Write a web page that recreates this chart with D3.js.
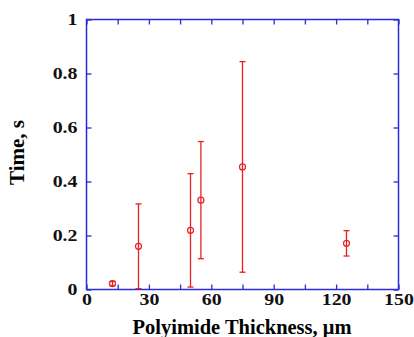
<!DOCTYPE html>
<html>
<head>
<meta charset="utf-8">
<script src="https://cdn.jsdelivr.net/npm/d3@7"></script>
<style>
  body { margin: 0; background: #fff; }
</style>
</head>
<body>
<div id="chart"></div>
<script>
// data
var thickness = [12.5, 25, 50, 55, 75, 125];
var time = [0.022, 0.16, 0.219, 0.331, 0.454, 0.171];
var timeErr = [0.008, 0.157, 0.21, 0.217, 0.39, 0.047];

var xTicks = [0, 15, 30, 45, 60, 75, 90, 105, 120, 135, 150];
var xLabels = [0, 30, 60, 90, 120, 150];
var yTicks = [0, 0.2, 0.4, 0.6, 0.8, 1];

var W = 414, H = 337;
var margin = {top: 19.5, right: 15.5, bottom: 47.5, left: 86.5};
var width = W - margin.left - margin.right,
    height = H - margin.top - margin.bottom;

var blue = "#2b2bdd", red = "#e82020";
var serif = "'Liberation Serif', 'Times New Roman', Times, serif";

var svg = d3.select("#chart").append("svg")
  .attr("width", W).attr("height", H)
  .append("g")
  .attr("transform", "translate(" + margin.left + "," + margin.top + ")");

var x = d3.scaleLinear().domain([0, 150]).range([0, width]);
var y = d3.scaleLinear().domain([0, 1]).range([height, 0]);

// the original's tick numbers are a bit wider than plain Times
function widen(sel, k) {
  sel.each(function() {
    var len = this.getComputedTextLength();
    if (len > 0) d3.select(this).attr("textLength", len * k).attr("lengthAdjust", "spacingAndGlyphs");
  });
}

function styleAxis(g) {
  g.attr("font-family", null).attr("font-size", null);
  g.select(".domain").remove();
  g.selectAll(".tick line").attr("stroke", blue).attr("stroke-width", 1.3);
  g.selectAll(".tick text").attr("fill", "#111")
    .style("font-family", serif).style("font-weight", "bold").style("font-size", "17px")
    .call(widen, 1.17);
}

// bottom
svg.append("g")
  .attr("transform", "translate(0," + height + ")")
  .call(d3.axisBottom(x).tickValues(xTicks).tickSize(-5).tickPadding(3.5)
    .tickFormat(function(d) { return xLabels.indexOf(d) >= 0 ? d : ""; }))
  .call(styleAxis);
// top
svg.append("g")
  .call(d3.axisTop(x).tickValues(xTicks).tickSize(-5).tickFormat(""))
  .call(styleAxis);
// left
svg.append("g")
  .call(d3.axisLeft(y).tickValues(yTicks).tickSize(-5).tickPadding(9)
    .tickFormat(d3.format("~g")))
  .call(styleAxis);
// right
svg.append("g")
  .attr("transform", "translate(" + width + ",0)")
  .call(d3.axisRight(y).tickValues(yTicks).tickSize(-5).tickFormat(""))
  .call(styleAxis);

svg.append("rect")
  .attr("width", width).attr("height", height)
  .attr("fill", "none").attr("stroke", blue).attr("stroke-width", 1.5);

// error bars
var pts = thickness.map(function(t, i) { return {x: t, y: time[i], e: timeErr[i]}; });
var bars = svg.append("g").attr("stroke", red).attr("stroke-width", 1.3);
pts.forEach(function(d) {
  var lo = Math.max(0, d.y - d.e), hi = d.y + d.e;
  bars.append("line").attr("x1", x(d.x)).attr("x2", x(d.x)).attr("y1", y(lo)).attr("y2", y(hi));
  bars.append("line").attr("x1", x(d.x) - 3).attr("x2", x(d.x) + 3).attr("y1", y(hi)).attr("y2", y(hi));
  bars.append("line").attr("x1", x(d.x) - 3).attr("x2", x(d.x) + 3).attr("y1", y(lo)).attr("y2", y(lo));
});

svg.selectAll("circle.pt").data(pts).enter().append("circle")
  .attr("class", "pt")
  .attr("cx", function(d) { return x(d.x); })
  .attr("cy", function(d) { return y(d.y); })
  .attr("r", 3)
  .attr("fill", "none")
  .attr("stroke", red).attr("stroke-width", 1.2);

// axis titles
svg.append("text")
  .attr("x", width / 2 - 0.5).attr("y", height + 44)
  .attr("text-anchor", "middle")
  .attr("textLength", 219).attr("lengthAdjust", "spacingAndGlyphs")
  .style("font-family", serif).style("font-weight", "bold").style("font-size", "20px")
  .text("Polyimide Thickness, μm");

svg.append("text")
  .attr("transform", "translate(" + (-margin.left + 24) + "," + (height / 2 - 2) + ") rotate(-90)")
  .attr("text-anchor", "middle")
  .attr("textLength", 65).attr("lengthAdjust", "spacingAndGlyphs")
  .style("font-family", serif).style("font-weight", "bold").style("font-size", "20px")
  .text("Time, s");
</script>
</body>
</html>
